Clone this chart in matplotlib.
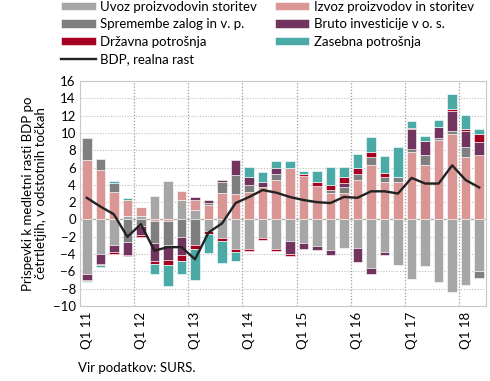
import matplotlib
matplotlib.use("Agg")
import matplotlib.pyplot as plt
import numpy as np

plt.rcParams['font.family'] = ['Lato', 'DejaVu Sans']

quarters = [f"Q{q} {y}" for y in range(11, 19) for q in range(1, 5)][:30]
tick_labels = ["Q1 11", "Q1 12", "Q1 13", "Q1 14", "Q1 15", "Q1 16", "Q1 17", "Q1 18"]

uvoz = [-6.3, -4.0, -3.0, 0.4, 0.4, 2.7, 4.45, 2.2, 1.1, -1.35,
        -2.1, -3.45, -3.45, -2.15, -3.45, -2.5, -2.75, -3.1, -3.5, -3.35,
        -3.35, -5.65, -3.8, -5.25, -6.9, -5.4, -7.25, -8.4, -7.6, -5.9]
izvoz = [6.85, 5.7, 3.15, 1.9, 1.0, -0.2, -0.15, 1.05, 1.2, 1.65,
         3.1, 2.9, 3.15, 3.75, 4.6, 5.9, 5.05, 3.9, 3.1, 3.1,
         4.55, 6.3, 4.35, 4.3, 7.75, 6.3, 9.15, 9.85, 7.25, 7.5]
zalog = [2.6, 1.3, 1.05, -2.6, -0.7, -2.5, -2.75, -2.0, -2.95, 0.3,
         1.2, 2.25, 0.85, 0.0, 0.6, 0.0, 0.0, 0.0, 0.35, 0.65,
         0.75, 0.95, 0.5, 0.55, 0.45, 1.1, 0.3, 0.4, 1.1, -0.9]
investicije = [-0.7, -1.1, -0.75, -1.55, -1.1, -2.1, -1.8, -2.1, 0.25, 0.35,
               0.25, 1.7, 0.9, 0.6, 0.7, -1.5, -0.7, -0.45, -0.6, 0.5,
               -1.6, -0.7, -0.35, 0.0, 2.25, 1.7, 1.2, 2.25, 1.9, 1.45]
drzavna = [-0.15, -0.15, -0.25, -0.1, -0.2, -0.3, -0.6, -0.7, -0.5, -0.35,
           -0.4, -0.3, -0.25, -0.2, -0.25, -0.2, 0.25, 0.4, 0.5, 0.65,
           0.65, 0.6, 0.5, 0.1, 0.15, 0.0, 0.0, 0.25, 0.25, 0.95]
zasebna = [-0.12, -0.3, 0.25, 0.2, 0.0, -1.15, -2.35, -1.55, -3.5, -2.2,
           -2.5, -1.1, 1.2, 1.1, 0.9, 0.85, 0.35, 1.3, 2.15, 1.15,
           1.65, 1.7, 1.95, 3.45, 0.8, 0.55, 0.8, 1.75, 1.55, 0.6]
bdp = [2.5, 1.5, 0.6, -2.0, -0.55, -3.6, -3.2, -3.2, -4.6, -1.5,
       -0.45, 1.9, 2.6, 3.4, 3.1, 2.6, 2.25, 2.0, 1.9, 2.6,
       2.5, 3.25, 3.25, 3.0, 4.8, 4.15, 4.15, 6.25, 4.55, 3.7]

series = [
    ("Uvoz proizvodovin storitev", uvoz, "#a6a6a6"),
    ("Izvoz proizvodov in storitev", izvoz, "#d99694"),
    ("Spremembe zalog in v. p.", zalog, "#7f7f7f"),
    ("Bruto investicije v o. s.", investicije, "#70345f"),
    ("Državna potrošnja", drzavna, "#a50021"),
    ("Zasebna potrošnja", zasebna, "#4ba9a6"),
]

fig = plt.figure(figsize=(4.9, 3.81), dpi=100)
ax = fig.add_axes([80/490, 1 - 306/381, 406/490, 225/381])

x = np.arange(len(quarters))
pos = np.zeros(len(x))
neg = np.zeros(len(x))
handles = {}
for name, vals, col in series:
    v = np.array(vals)
    bottom = np.where(v >= 0, pos, neg)
    b = ax.bar(x, v, bottom=bottom, width=0.7, color=col, edgecolor="white",
               linewidth=0.4, label=name, zorder=3)
    handles[name] = b
    pos = pos + np.where(v >= 0, v, 0)
    neg = neg + np.where(v < 0, v, 0)

line, = ax.plot(x, bdp, color="#222222", lw=1.7, zorder=4, label="BDP, realna rast")

ax.axhline(0, color="#b0b0b0", lw=1.0, zorder=2)
ax.set_xlim(-0.5, len(x) - 0.5)
ax.set_ylim(-10, 16)
ax.set_yticks(np.arange(-10, 17, 2))
ax.set_xticks(np.arange(0, len(x), 4))
ax.set_xticklabels(tick_labels, rotation=90)
ax.set_xticks(np.arange(3.5, len(x) - 0.5, 4), minor=True)
ax.tick_params(axis='x', which='both', length=0, labelsize=9.5, pad=4)
ax.tick_params(axis='y', length=0, labelsize=9.5, pad=3)
ax.grid(axis='y', which='major', ls=(0, (1, 1.5)), color="#bdbdbd", lw=0.8, zorder=0)
ax.grid(axis='x', which='minor', ls=(0, (1, 1.5)), color="#9a9a9a", lw=0.9, zorder=0)
ax.grid(axis='x', which='major', visible=False)
for s in ax.spines.values():
    s.set_color("#c8c8c8")
    s.set_linewidth(0.8)

ax.set_ylabel("Prispevki k medletni rasti BDP po\nčetrtletjih, v odstotnih točkah",
              fontsize=9.5, labelpad=4, linespacing=1.1)

order = ["Uvoz proizvodovin storitev", "Spremembe zalog in v. p.", "Državna potrošnja",
         None, "Izvoz proizvodov in storitev", "Bruto investicije v o. s.", "Zasebna potrošnja"]
hs, ls = [], []
for n in order:
    if n is None:
        hs.append(line); ls.append("BDP, realna rast")
    else:
        hs.append(handles[n]); ls.append(n)
leg = fig.legend(hs, ls, ncol=2, loc="upper left", bbox_to_anchor=(56/490, 1.012),
                 frameon=False, fontsize=9.5, handlelength=2.6, handleheight=0.6,
                 handletextpad=0.35, columnspacing=1.35, labelspacing=0.42,
                 borderaxespad=0)

fig.text(78/490, 1 - 368/381, "Vir podatkov: SURS.", fontsize=9.5, va="center", ha="left")

fig.savefig("out.png", dpi=100)
